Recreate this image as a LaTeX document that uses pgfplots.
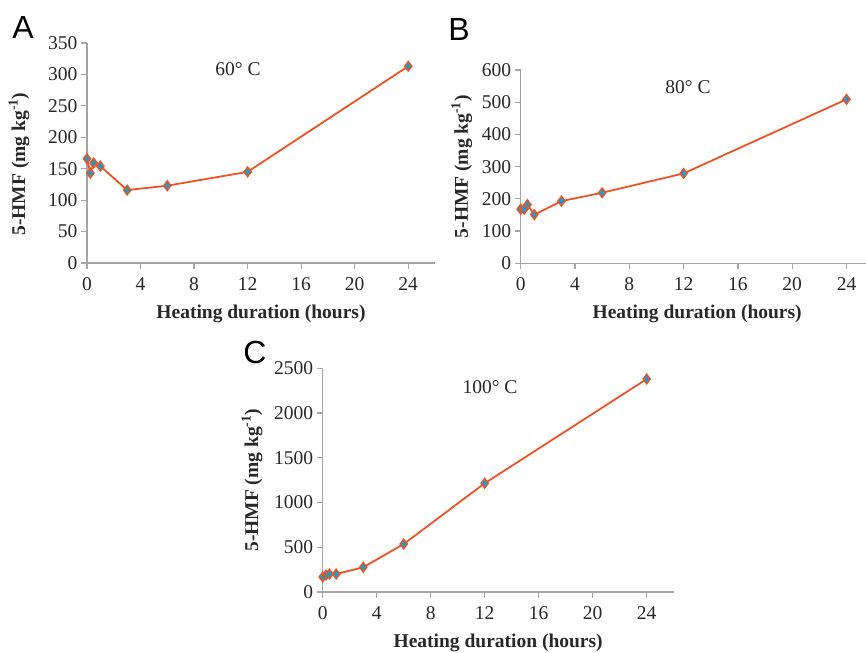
\documentclass[border=0pt]{standalone}
\usepackage{pgfplots}
\pgfplotsset{compat=1.18}
\usepackage{fontspec}
\setmainfont{Liberation Serif}
\newfontfamily\panelfont{Liberation Sans}

\definecolor{hmfline}{RGB}{240,82,40}
\definecolor{hmffill}{RGB}{22,160,200}
\definecolor{axgray}{RGB}{165,165,165}
\definecolor{txt}{RGB}{40,40,40}

\pgfplotsset{
  panel/.style={
    scale only axis, anchor=south west,
    axis x line=bottom, axis y line=left,
    axis line style={axgray, line width=1.2bp, -},
    xmin=0, xmax=26, ymin=0,
    xtick={0,4,...,24},
    tick align=outside, major tick length=6bp,
    tick style={axgray, line width=1.2bp},
    ticklabel style={font=\fontsize{19.5bp}{22bp}\selectfont, text=txt},
    xticklabel shift=5bp,
    /pgf/number format/assume math mode=true,
    /pgf/number format/1000 sep={},
    scaled y ticks=false,
    xlabel={\textbf{Heating duration (hours)}},
    ylabel={\textbf{5-HMF (mg kg\textsuperscript{-1})}},
    label style={font=\fontsize{19.5bp}{22bp}\selectfont, text=txt},
    xlabel shift=7bp,
    clip=false,
  },
  hmf/.style={hmfline, line width=1.8bp, mark=diamond*, mark size=4.8bp,
    mark options={fill=hmffill, draw=hmfline, line width=1.4bp}},
}

\begin{document}
\begin{tikzpicture}
\useasboundingbox (0,0) rectangle (866bp,653bp);

% A: 60 C
\begin{axis}[panel, at={(87bp,390bp)}, width=348bp, height=220bp,
  ymax=350, ytick={0,50,...,350}, ylabel shift=12bp,
  ylabel style={at={(ticklabel cs:0.45)}}]
  \addplot[hmf] coordinates {(0,166)(0.25,143)(0.5,159)(1,154)(3,116)(6,123)(12,145)(24,313)};
\end{axis}

% B: 80 C
\begin{axis}[panel, at={(520.7bp,389.7bp)}, width=353bp, height=193.3bp,
  ymax=600, ytick={0,100,...,600}, ylabel shift=3bp]
  \addplot[hmf] coordinates {(0,168)(0.25,168)(0.5,182)(1,151)(3,193)(6,219)(12,279)(24,509)};
\end{axis}

% C: 100 C
\begin{axis}[panel, at={(322.7bp,61bp)}, width=351bp, height=223.7bp,
  ymax=2500, ytick={0,500,...,2500}, ylabel shift=5bp]
  \addplot[hmf] coordinates {(0,168)(0.25,190)(0.5,201)(1,201)(3,276)(6,536)(12,1215)(24,2380)};
\end{axis}

\node[font=\fontsize{19.5bp}{22bp}\selectfont, text=txt] at (238bp,584bp) {60° C};
\node[font=\fontsize{19.5bp}{22bp}\selectfont, text=txt] at (688bp,566bp) {80° C};
\node[font=\fontsize{19.5bp}{22bp}\selectfont, text=txt] at (490bp,266bp) {100° C};

\node[font=\panelfont\fontsize{32bp}{36bp}\selectfont] at (23bp,626bp) {A};
\node[font=\panelfont\fontsize{32bp}{36bp}\selectfont] at (459bp,624bp) {B};
\node[font=\panelfont\fontsize{32bp}{36bp}\selectfont] at (255bp,301bp) {C};
\end{tikzpicture}
\end{document}
